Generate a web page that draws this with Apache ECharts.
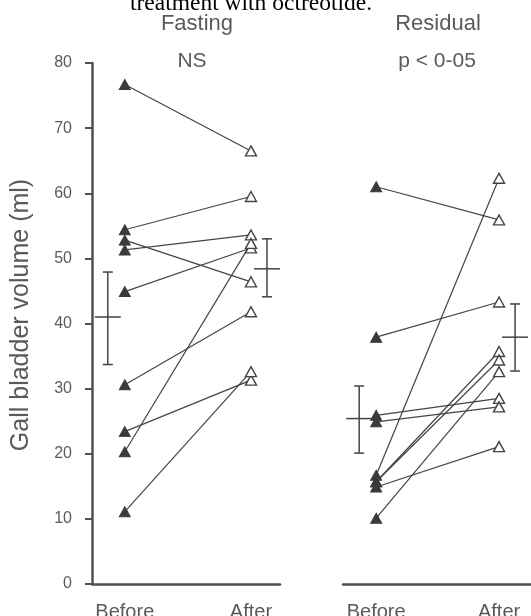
<!DOCTYPE html>
<html>
<head>
    <meta charset="utf-8">
    <title>Gall bladder volume</title>
    <script src="https://cdn.jsdelivr.net/npm/echarts@6/dist/echarts.min.js"></script>
    <style>
        html, body { margin: 0; padding: 0; background: #fff; }
    </style>
</head>
<body>
    <div id="chart" style="width: 531px;height:616px;"></div>
    <script type="text/javascript">
        // panel data, ml
        var fastingBefore = [76.7, 54.4, 52.8, 51.3, 44.9, 30.6, 23.4, 20.3, 11.1];
        var fastingAfter  = [66.5, 59.5, 46.4, 53.6, 51.6, 41.8, 31.3, 52.3, 32.6];
        var residualBefore = [61.0, 37.9, 25.9, 24.9, 16.7, 15.7, 15.7, 14.9, 10.1];
        var residualAfter  = [55.9, 43.3, 28.5, 27.2, 62.3, 35.7, 34.4, 21.1, 32.6];

        // mean and range bars: [before, after]
        var fastingMean = [41.0, 48.4];
        var fastingLow  = [33.7, 44.1];
        var fastingHigh = [47.9, 53.0];
        var residualMean = [25.4, 37.9];
        var residualLow  = [20.1, 32.7];
        var residualHigh = [30.4, 43.0];

        var yTicks = [0, 10, 20, 30, 40, 50, 60, 70, 80];
        var timeLabels = ['Before', 'After'];
        var panelTitles = ['Fasting', 'Residual'];
        var panelStats = ['NS', 'p < 0-05'];

        var ink = '#444';
        var textGrey = '#5a5a5a';
        var font = 'Liberation Sans, Arial, sans-serif';

        var myChart = echarts.init(document.getElementById('chart'));

        function pairSeries(before, after, idx) {
            var out = [];
            for (var i = 0; i < before.length; i++) {
                out.push({
                    type: 'line',
                    xAxisIndex: idx,
                    yAxisIndex: idx,
                    symbol: 'triangle',
                    symbolSize: [11, 10],
                    lineStyle: { color: ink, width: 1.2 },
                    data: [
                        { value: [0, before[i]], itemStyle: { color: '#3a3a3a', borderColor: '#3a3a3a', borderWidth: 1 } },
                        { value: [1, after[i]], itemStyle: { color: '#fff', borderColor: ink, borderWidth: 1.4 } }
                    ],
                    z: 3
                });
            }
            return out;
        }

        function barSeries(mean, low, high, idx) {
            var rows = [];
            for (var i = 0; i < mean.length; i++) rows.push([i, mean[i], low[i], high[i]]);
            return {
                type: 'custom',
                xAxisIndex: idx,
                yAxisIndex: idx,
                data: rows,
                renderItem: function (params, api) {
                    var side = api.value(0);
                    var pm = api.coord([side, api.value(1)]);
                    var pl = api.coord([side, api.value(2)]);
                    var ph = api.coord([side, api.value(3)]);
                    var x = pm[0] + (side === 0 ? -17 : 16);
                    var st = { stroke: ink, lineWidth: 1.5 };
                    return {
                        type: 'group',
                        children: [
                            { type: 'line', shape: { x1: x, y1: ph[1], x2: x, y2: pl[1] }, style: st },
                            { type: 'line', shape: { x1: x - 5, y1: ph[1], x2: x + 5, y2: ph[1] }, style: st },
                            { type: 'line', shape: { x1: x - 5, y1: pl[1], x2: x + 5, y2: pl[1] }, style: st },
                            { type: 'line', shape: { x1: x - 13, y1: pm[1], x2: x + 13, y2: pm[1] }, style: st }
                        ]
                    };
                },
                z: 2
            };
        }

        var xAxisBase = {
            type: 'value',
            min: -0.26,
            max: 1.23,
            splitLine: { show: false },
            axisTick: { show: false },
            axisLine: { onZero: false, lineStyle: { color: '#505050', width: 2.5 } },
            axisLabel: {
                customValues: [0, 1],
                formatter: function (v) { return v === 0 ? timeLabels[0] : timeLabels[1]; },
                color: textGrey,
                fontFamily: font,
                fontSize: 20,
                margin: 18
            }
        };

        var option = {
            animation: false,
            backgroundColor: '#fff',
            grid: [
                { left: 92, right: 251, top: 63, bottom: 32, outerBoundsMode: 'none', containLabel: false },
                { left: 343, right: 0, top: 63, bottom: 32, outerBoundsMode: 'none', containLabel: false }
            ],
            xAxis: [
                Object.assign({ gridIndex: 0 }, xAxisBase),
                Object.assign({ gridIndex: 1 }, xAxisBase, { min: -0.27, max: 1.26 })
            ],
            yAxis: [
                {
                    gridIndex: 0,
                    type: 'value',
                    min: 0,
                    max: 80,
                    interval: 10,
                    splitLine: { show: false },
                    axisLine: { show: true, onZero: false, lineStyle: { color: '#505050', width: 2.5 } },
                    axisTick: { show: true, length: 7, lineStyle: { color: '#505050', width: 2 } },
                    axisLabel: {
                        color: textGrey,
                        fontFamily: font,
                        fontSize: 16,
                        margin: 20,
                        formatter: function (v) { return yTicks.indexOf(v) >= 0 ? String(v) : ''; }
                    }
                },
                {
                    gridIndex: 1,
                    type: 'value',
                    min: 0,
                    max: 80,
                    show: false
                }
            ],
            graphic: [
                {
                    type: 'text',
                    x: 251,
                    y: 16,
                    style: {
                        text: 'treatment with octreotide.',
                        font: '23.5px "Liberation Serif", "Times New Roman", serif',
                        fill: '#000',
                        align: 'center',
                        verticalAlign: 'bottom'
                    }
                },
                {
                    type: 'text', x: 197, y: 13,
                    style: { text: panelTitles[0], font: '22px ' + font, fill: textGrey, align: 'center' }
                },
                {
                    type: 'text', x: 438, y: 13,
                    style: { text: panelTitles[1], font: '22px ' + font, fill: textGrey, align: 'center' }
                },
                {
                    type: 'text', x: 192, y: 51,
                    style: { text: panelStats[0], font: '21px ' + font, fill: textGrey, align: 'center' }
                },
                {
                    type: 'text', x: 437, y: 51,
                    style: { text: panelStats[1], font: '21px ' + font, fill: textGrey, align: 'center' }
                },
                {
                    type: 'text',
                    x: 9, y: 315,
                    rotation: Math.PI / 2,
                    style: {
                        text: 'Gall bladder volume (ml)',
                        font: '25px ' + font,
                        fill: textGrey,
                        align: 'center',
                        verticalAlign: 'top'
                    }
                }
            ],
            series: []
                .concat(pairSeries(fastingBefore, fastingAfter, 0))
                .concat(pairSeries(residualBefore, residualAfter, 1))
                .concat([barSeries(fastingMean, fastingLow, fastingHigh, 0),
                         barSeries(residualMean, residualLow, residualHigh, 1)])
        };

        myChart.setOption(option);
    </script>
</body>
</html>
